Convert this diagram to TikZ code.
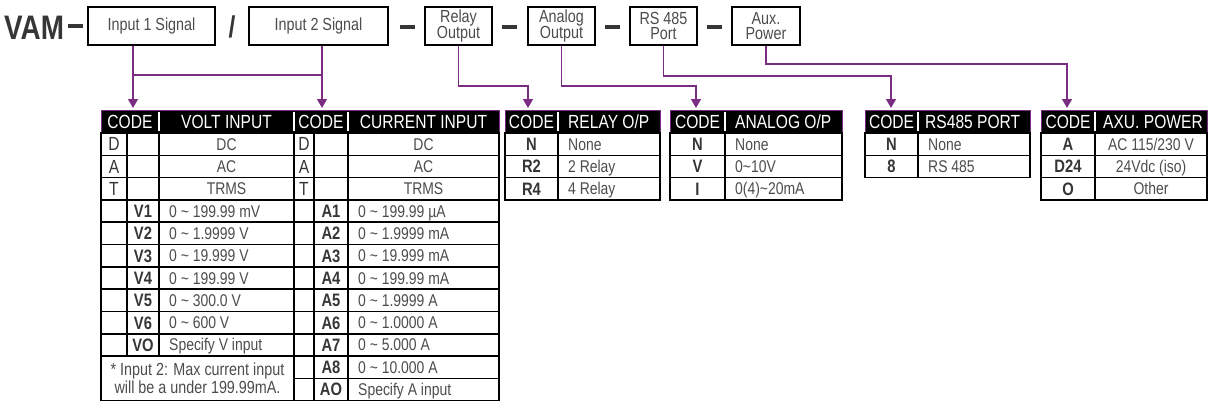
\documentclass[tikz,border=0pt]{standalone}
\usepackage{fontspec}
\setmainfont{Liberation Sans}[FakeStretch=0.82]
\usetikzlibrary{arrows.meta}

\definecolor{codepurple}{HTML}{7B2C83}
\definecolor{txtgray}{HTML}{4C4C4C}
\definecolor{darkgray}{HTML}{363636}
\newcommand{\wave}{\textasciitilde}

\tikzset{
  partbox/.style={draw=black, line width=1.6pt, minimum height=38pt, inner sep=0pt,
    align=center, text=txtgray, font=\fontsize{17.5}{15.5}\selectfont},
  sepbar/.style={fill=darkgray, minimum width=15pt, minimum height=4pt, inner sep=0pt},
  flow/.style={draw=codepurple, line width=1.3pt, -{Triangle[width=10pt,length=9pt]}},
  link/.style={draw=codepurple, line width=1.3pt},
  hdr/.style={fill=black, draw=codepurple, line width=1pt},
  sepline/.style={draw=white, line width=1.2pt},
  tabline/.style={draw=black, line width=1.6pt},
  hdrtxt/.style={text=white, font=\fontsize{19}{18}\selectfont, inner sep=0pt,
    text height=13.4pt, text depth=0pt},
  celltxt/.style={text=txtgray, font=\fontsize{17}{18}\selectfont, inner sep=0pt,
    text height=12.2pt, text depth=0pt},
  lettertxt/.style={celltxt, text=darkgray, font=\fontsize{19}{18}\selectfont,
    text height=13.6pt},
  codetxt/.style={celltxt, text=darkgray, font=\fontsize{18}{18}\selectfont\bfseries,
    text height=12.9pt},
}

\begin{document}
\begin{tikzpicture}[x=1pt, y=-1pt]
\useasboundingbox (0,0) rectangle (1210,410);

% part number
\node[anchor=base west, inner sep=0pt, text=darkgray,
  font=\fontsize{34}{34}\selectfont\bfseries] (vam) at (4,39) {VAM};
\node[sepbar] (d0) at (75,26) {};
\node[partbox, minimum width=127pt] (in1) at (151.5,26) {Input 1 Signal};
\node[inner sep=0pt, text=darkgray, font=\fontsize{30}{30}\selectfont\bfseries] (sl) at (232,27) {/};
\node[partbox, minimum width=139pt] (in2) at (318.5,26) {Input 2 Signal};
\node[sepbar] (d1) at (407.5,26.5) {};
\node[partbox, minimum width=67pt] (relay) at (458.5,26) {Relay\\Output};
\node[sepbar] (d2) at (509.5,26.5) {};
\node[partbox, minimum width=67pt] (analog) at (561.5,26) {Analog\\Output};
\node[sepbar] (d3) at (612.5,26.5) {};
\node[partbox, minimum width=67pt] (rsport) at (663.5,26) {RS 485\\Port};
\node[sepbar] (d4) at (714,26.5) {};
\node[partbox, minimum width=68pt] (aux) at (766,26) {Aux.\\Power};

% connectors
\coordinate (t1) at (133,108);
\coordinate (t2) at (322,108);
\coordinate (t3) at (528,108);
\coordinate (t4) at (696,108);
\coordinate (t5) at (891,108);
\coordinate (t6) at (1067,108);
\coordinate (j1) at (133,75);
\coordinate (j2) at (322,75);
\coordinate (k3) at (0,86);
\coordinate (k5) at (0,76);
\coordinate (k6) at (0,64);
\draw[flow] (t1 |- in1.south) -- (t1);
\draw[flow] (t2 |- in2.south) -- (t2);
\draw[link] (j1) -- (j2);
\draw[flow] (relay.south) -- (relay.south |- k3) -| (t3);
\draw[flow] (analog.south) -- (analog.south |- k3) -| (t4);
\draw[flow] (rsport.south) -- (rsport.south |- k5) -| (t5);
\draw[flow] (aux.south) -- (aux.south |- k6) -| (t6);

% input table
\path[hdr] (101,110) rectangle (499,133);
\foreach \x in {159,294,348} \draw[sepline] (\x,112) -- (\x,131);
\node[hdrtxt] (hc1) at (130,121.5) {CODE};
\node[hdrtxt] (hvolt) at (226.5,121.5) {VOLT INPUT};
\node[hdrtxt] (hc2) at (321,121.5) {CODE};
\node[hdrtxt] (hcur) at (423.5,121.5) {CURRENT INPUT};
\draw[tabline] (101,133) rectangle (499,{133+22.3*12});
\foreach \k in {1,...,10} \draw[tabline] (101,{133+22.3*\k}) -- (294,{133+22.3*\k});
\foreach \k in {1,...,11} \draw[tabline] (294,{133+22.3*\k}) -- (499,{133+22.3*\k});
\foreach \x in {127,159} \draw[tabline] (\x,133) -- (\x,{133+22.3*10});
\foreach \x in {294,314,348} \draw[tabline] (\x,133) -- (\x,{133+22.3*12});

\foreach \c/\t [count=\k] in {D/DC, A/AC, T/TRMS} {
  \node[lettertxt] (vl\k) at (114,{133+22.3*(\k-0.5)}) {\c};
  \node[celltxt] (vd\k) at (226.5,{133+22.3*(\k-0.5)}) {\t};
  \node[lettertxt] (al\k) at (304,{133+22.3*(\k-0.5)}) {\c};
  \node[celltxt] (ad\k) at (423.5,{133+22.3*(\k-0.5)}) {\t};
}
\foreach \c/\t [count=\k from 4] in {V1/0 \wave{} 199.99 mV, V2/0 \wave{} 1.9999 V,
    V3/0 \wave{} 19.999 V, V4/0 \wave{} 199.99 V, V5/0 \wave{} 300.0 V,
    V6/0 \wave{} 600 V, VO/Specify V input} {
  \node[codetxt] (vc\k) at (143,{133+22.3*(\k-0.5)}) {\c};
  \node[celltxt, anchor=west] (vr\k) at (169,{133+22.3*(\k-0.5)}) {\t};
}
\foreach \c/\t [count=\k from 4] in {A1/0 \wave{} 199.99 µA, A2/0 \wave{} 1.9999 mA,
    A3/0 \wave{} 19.999 mA, A4/0 \wave{} 199.99 mA, A5/0 \wave{} 1.9999 A,
    A6/0 \wave{} 1.0000 A, A7/0 \wave{} 5.000 A, A8/0 \wave{} 10.000 A,
    AO/Specify A input} {
  \node[codetxt] (ac\k) at (331,{133+22.3*(\k-0.5)}) {\c};
  \node[celltxt, anchor=west] (ar\k) at (358,{133+22.3*(\k-0.5)}) {\t};
}
\node[text=txtgray, font=\fontsize{17.5}{18}\selectfont, align=center, inner sep=0pt]
  (note) at (197.5,{133+22.3*11}) {* Input 2: Max current input\\will be a under 199.99mA.};

% option tables
\foreach \xa/\xb/\xc/\n in {505/558/660/3, 670/725/842/3, 865/918/1030/2, 1041/1095/1207/3} {
  \path[hdr] (\xa,110) rectangle (\xc,133);
  \draw[sepline] (\xb,112) -- (\xb,131);
  \node[hdrtxt] at ({(\xa+\xb)/2},121.5) {CODE};
  \draw[tabline] (\xa,133) rectangle (\xc,{133+22.3*\n});
  \draw[tabline] (\xb,133) -- (\xb,{133+22.3*\n});
  \foreach \k in {1,...,\n} \draw[tabline] (\xa,{133+22.3*\k}) -- (\xc,{133+22.3*\k});
}
\node[hdrtxt, anchor=west] (hrelay) at (568,121.5) {RELAY O/P};
\node[hdrtxt, anchor=west] (hanalog) at (735,121.5) {ANALOG O/P};
\node[hdrtxt, anchor=west] (hrs) at (925,121.5) {RS485 PORT};
\node[hdrtxt, anchor=west] (haux) at (1103,121.5) {AXU. POWER};

\foreach \c/\t [count=\k] in {N/None, R2/2 Relay, R4/4 Relay} {
  \node[codetxt] (rc\k) at (531.5,{133+22.3*(\k-0.5)}) {\c};
  \node[celltxt, anchor=west] (rt\k) at (568,{133+22.3*(\k-0.5)}) {\t};
}
\foreach \c/\t [count=\k] in {N/None, V/0\wave10V, I/0(4)\wave20mA} {
  \node[codetxt] (oc\k) at (697.5,{133+22.3*(\k-0.5)}) {\c};
  \node[celltxt, anchor=west] (ot\k) at (735,{133+22.3*(\k-0.5)}) {\t};
}
\foreach \c/\t [count=\k] in {N/None, 8/RS 485} {
  \node[codetxt] (pc\k) at (891.5,{133+22.3*(\k-0.5)}) {\c};
  \node[celltxt, anchor=west] (pt\k) at (928,{133+22.3*(\k-0.5)}) {\t};
}
\foreach \c/\t [count=\k] in {A/{AC 115/230 V}, D24/24Vdc (iso), O/Other} {
  \node[codetxt] (xc\k) at (1068,{133+22.3*(\k-0.5)}) {\c};
  \node[celltxt] (xt\k) at (1151,{133+22.3*(\k-0.5)}) {\t};
}
\end{tikzpicture}
\end{document}
